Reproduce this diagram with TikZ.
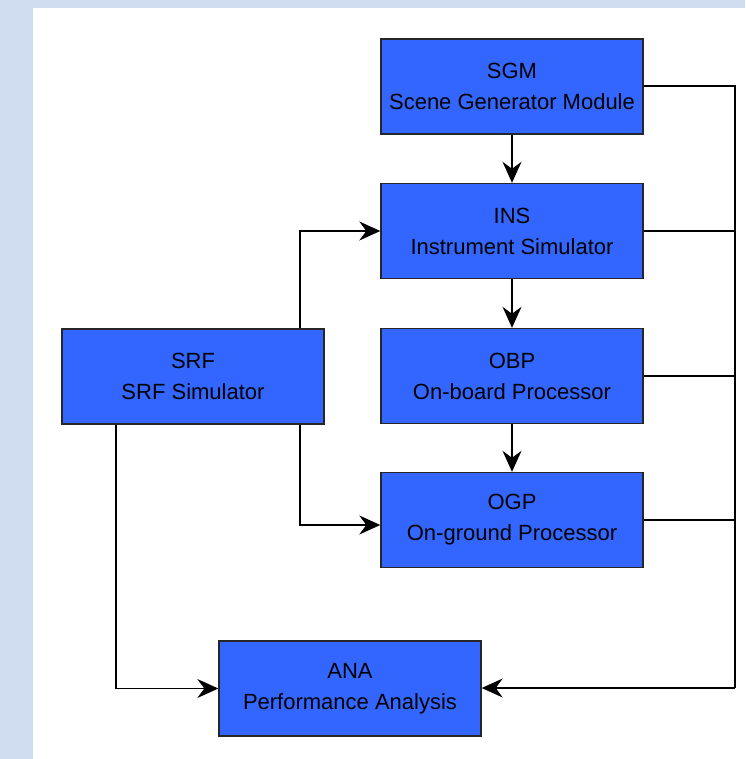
\documentclass[tikz,border=0pt]{standalone}
\usepackage{fontspec}
\setmainfont{Liberation Sans}
\usetikzlibrary{arrows.meta}
\definecolor{bgblue}{HTML}{D0DCF0}
\definecolor{boxblue}{HTML}{3366FF}
\begin{document}
\begin{tikzpicture}[x=1pt,y=-1pt,
  blk/.style={draw=black!85, line width=1.4pt, fill=boxblue, minimum width=262pt, minimum height=95pt,
    align=center, font=\fontsize{22}{31}\selectfont, inner sep=0pt},
  conn/.style={draw=black, line width=1.3pt},
  arr/.style={conn, -{Stealth[length=21pt,width=19pt,inset=7pt]}}]
\useasboundingbox (0,0) rectangle (745,759);
\fill[bgblue] (0,0) rectangle (745,759);
\fill[white] (33,8) rectangle (745,759);
\node[blk] (sgm) at (512,86.5) {SGM\\Scene Generator Module};
\node[blk] (ins) at (512,231) {INS\\Instrument Simulator};
\node[blk] (obp) at (512,376) {OBP\\On-board Processor};
\node[blk] (ogp) at (512,520) {OGP\\On-ground Processor};
\node[blk] (srf) at (193,376.5) {SRF\\SRF Simulator};
\node[blk] (ana) at (350,688.5) {ANA\\Performance Analysis};
\coordinate (rt) at (735,86);
\coordinate (rb) at (735,688);
\draw[arr] (sgm) -- (ins);
\draw[arr] (ins) -- (obp);
\draw[arr] (obp) -- (ogp);
\draw[conn] (sgm.east |- rt) -- (rt) -- (rb);
\draw[arr] (rb) -- (ana.east |- rb);
\draw[conn] (ins.east) -- (ins.east -| rt);
\draw[conn] (obp.east) -- (obp.east -| rt);
\draw[conn] (ogp.east) -- (ogp.east -| rt);
\draw[arr] ([xshift=107pt]srf.north) |- (ins.west);
\draw[arr] ([xshift=107pt]srf.south) |- ([yshift=-5pt]ogp.west);
\draw[arr] ([xshift=-77pt]srf.south) |- (ana.west);
\end{tikzpicture}
\end{document}
